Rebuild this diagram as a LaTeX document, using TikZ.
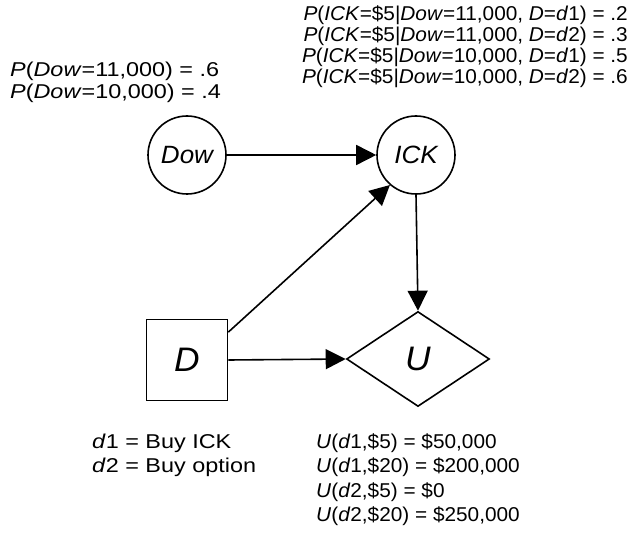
\documentclass[tikz,border=0pt]{standalone}
\usepackage{fontspec}
\setmainfont{Liberation Sans}[FakeStretch=1.04]
\newfontfamily\widefont{Liberation Sans}[FakeStretch=1.17]
\usetikzlibrary{shapes.geometric,arrows.meta}
\begin{document}
\begin{tikzpicture}[x=1pt,y=-1pt,
  lbl/.style={inner sep=0pt,font=\fontsize{20}{21}\selectfont},
  wlbl/.style={inner sep=0pt,font=\widefont\fontsize{20}{21}\selectfont},
  chance/.style={circle,draw,line width=1.6pt,minimum size=78pt,inner sep=0pt,font=\fontsize{25}{25}\selectfont\itshape},
  decis/.style={rectangle,draw,line width=1.6pt,minimum size=81pt,inner sep=0pt,font=\fontsize{34}{34}\selectfont\itshape},
  util/.style={diamond,draw,line width=1.6pt,minimum width=143pt,minimum height=95pt,inner sep=0pt,font=\fontsize{34}{34}\selectfont\itshape},
  arr/.style={line width=1.6pt,-{Triangle[length=20pt,width=20pt]}}]
\useasboundingbox (0,0) rectangle (637,540);
\node[chance] (dow) at (187,155) {Dow};
\node[chance] (ick) at (416,155) {ICK};
\node[decis] (d) at (187,360) {D};
\node[util] (u) at (418,359) {U};
\draw[arr] (dow.east) -- (ick.west);
\draw[arr] (ick.south) -- (u.north);
\draw[arr] (d.east) -- (u.west);
\draw[arr] (d.34) -- (ick.229);
\node[lbl,anchor=base east] (t1) at (628,21) {\textit{P}(\textit{ICK}=\$5\textbar\textit{Dow}=11,000, \textit{D}=\textit{d}1) = .2};
\node[lbl,anchor=base east] (t2) at (628,42) {\textit{P}(\textit{ICK}=\$5\textbar\textit{Dow}=11,000, \textit{D}=\textit{d}2) = .3};
\node[lbl,anchor=base east] (t3) at (628,63) {\textit{P}(\textit{ICK}=\$5\textbar\textit{Dow}=10,000, \textit{D}=\textit{d}1) = .5};
\node[lbl,anchor=base east] (t4) at (628,84) {\textit{P}(\textit{ICK}=\$5\textbar\textit{Dow}=10,000, \textit{D}=\textit{d}2) = .6};
\node[wlbl,anchor=base west] (p1) at (10,77) {\textit{P}(\textit{Dow}=11,000) = .6};
\node[wlbl,anchor=base west] (p2) at (10,99) {\textit{P}(\textit{Dow}=10,000) = .4};
\node[wlbl,anchor=base west] (d1) at (92,448) {\textit{d}1 = Buy ICK};
\node[wlbl,anchor=base west] (d2) at (92,472) {\textit{d}2 = Buy option};
\node[lbl,anchor=base west] (u1) at (316,448) {\textit{U}(\textit{d}1,\$5) = \$50,000};
\node[lbl,anchor=base west] (u2) at (316,472) {\textit{U}(\textit{d}1,\$20) = \$200,000};
\node[lbl,anchor=base west] (u3) at (316,497) {\textit{U}(\textit{d}2,\$5) = \$0};
\node[lbl,anchor=base west] (u4) at (316,521) {\textit{U}(\textit{d}2,\$20) = \$250,000};
\end{tikzpicture}
\end{document}
